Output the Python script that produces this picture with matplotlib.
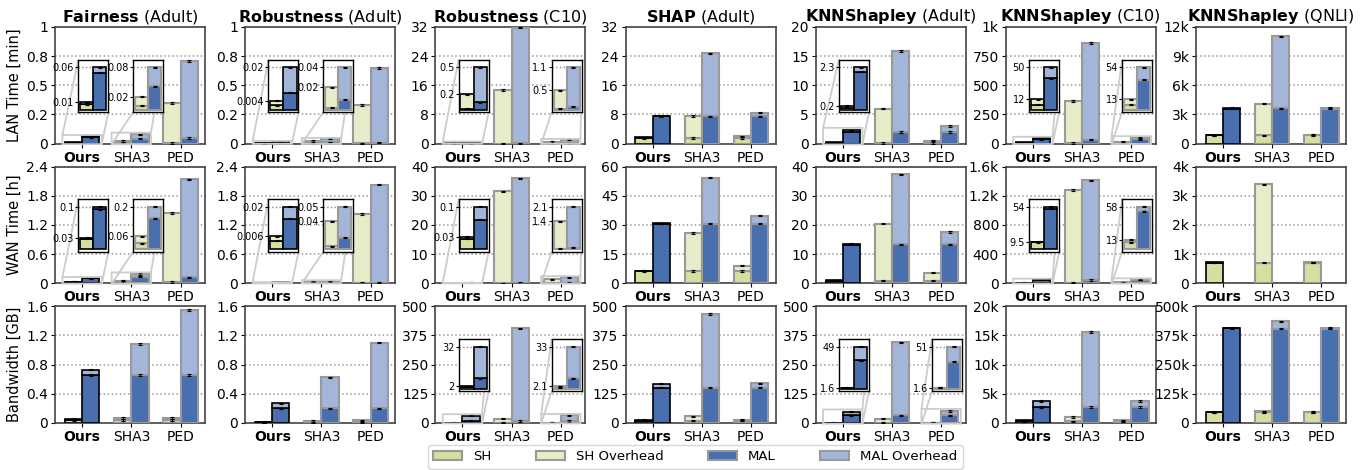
import numpy as np
import matplotlib
matplotlib.use('Agg')
import matplotlib.pyplot as plt
from matplotlib.patches import Patch
from matplotlib.ticker import FuncFormatter

# ---------------------------------------------------------
# Data; each column lists [Ours, SHA3, PED]
# ---------------------------------------------------------
methods = ['Ours', 'SHA3', 'PED']
tasks = ['Fairness', 'Robustness', 'Robustness', 'SHAP', 'KNNShapley', 'KNNShapley', 'KNNShapley']
datasets = ['Adult', 'Adult', 'C10', 'Adult', 'Adult', 'C10', 'QNLI']
row_labels = ['LAN Time [min]', 'WAN Time [h]', 'Bandwidth [GB]']
legend_labels = ['SH', 'SH Overhead', 'MAL', 'MAL Overhead']

lan_ymax = [1, 1, 32, 32, 20, 1000, 12000]
wan_ymax = [2.4, 2.4, 40, 60, 40, 1600, 4000]
bw_ymax = [1.6, 1.6, 500, 500, 500, 20000, 500000]

lan_sh = [[0.008, 0.007, 0.007], [0.002, 0.002, 0.002], [0.01, 0.03, 0.02], [1.6, 1.6, 1.6],
          [0.1, 0.1, 0.1], [6, 6, 6], [850, 850, 850]]
lan_sh_total = [[0.011, 0.024, 0.35], [0.0042, 0.022, 0.33], [0.18, 14.7, 0.5], [1.7, 7.55, 2.0],
                [0.2, 6.0, 0.5], [12, 366, 13], [870, 4115, 930]]
lan_mal = [[0.055, 0.044, 0.05], [0.008, 0.01, 0.008], [0.086, 0.1, 0.07], [7.5, 7.5, 7.5],
           [2.07, 2.0, 2.0], [37, 35, 38], [3600, 3630, 3600]]
lan_mal_total = [[0.063, 0.08, 0.71], [0.02, 0.042, 0.65], [0.5, 31.8, 1.1], [7.7, 24.8, 8.5],
                 [2.3, 15.85, 3.0], [50, 862, 54], [3700, 11030, 3700]]

wan_sh = [[0.028, 0.028, 0.028], [0.004, 0.004, 0.004], [0.025, 0.03, 0.03], [6.4, 6.4, 6.4],
          [0.9, 0.9, 0.9], [9, 9, 9.5], [713, 713, 713]]
wan_sh_total = [[0.03, 0.058, 1.45], [0.0062, 0.036, 1.43], [0.03, 31.5, 1.4], [6.5, 25.9, 9.1],
                [1.0, 20.5, 3.7], [9.5, 1278, 13], [720, 3390, 720]]
wan_mal = [[0.104, 0.14, 0.124], [0.0145, 0.0145, 0.0145], [0.07, 0.07, 0.07], [30.7, 30.7, 30.7],
           [13.3, 13.4, 13.4], [52, 46, 52], [None, None, None]]
wan_mal_total = [[0.11, 0.19, 2.14], [0.02, 0.054, 2.03], [0.1, 36, 2.1], [30.9, 54.3, 34.8],
                 [13.6, 37.4, 17.6], [54, 1411, 58], [None, None, None]]

bw_sh = [[0.04, 0.04, 0.04], [0.01, 0.01, 0.01], [1.5, 1.5, 1.5], [10, 10, 10],
         [1.4, 1.4, 1.4], [300, 300, 300], [45000, 46000, 45000]]
bw_sh_total = [[0.06, 0.07, 0.07], [0.014, 0.03, 0.035], [2.0, 19, 2.1], [14, 28.7, 14],
               [1.6, 18.7, 1.6], [460, 1034, 460], [47000, 50000, 47000]]
bw_mal = [[0.66, 0.66, 0.66], [0.2, 0.2, 0.2], [8, 8.6, 8.3], [152, 152, 152],
          [33, 33, 33], [2760, 2760, 2760], [406000, 404000, 404000]]
bw_mal_total = [[0.73, 1.085, 1.55], [0.27, 0.625, 1.10], [32, 405, 33], [168, 467, 170],
                [49, 346, 51], [3800, 15630, 3800], [409000, 435000, 409000]]

# which groups get a zoomed inset in each panel
lan_insets = [['Ours', 'SHA3'], ['Ours', 'SHA3'], ['Ours', 'PED'], [], ['Ours'], ['Ours', 'PED'], []]
wan_insets = [['Ours', 'SHA3'], ['Ours', 'SHA3'], ['Ours', 'PED'], [], [], ['Ours', 'PED'], []]
bw_insets = [[], [], ['Ours', 'PED'], [], ['Ours', 'PED'], [], []]

rows = [
    (lan_ymax, lan_sh, lan_sh_total, lan_mal, lan_mal_total, lan_insets),
    (wan_ymax, wan_sh, wan_sh_total, wan_mal, wan_mal_total, wan_insets),
    (bw_ymax, bw_sh, bw_sh_total, bw_mal, bw_mal_total, bw_insets),
]

# ---------------------------------------------------------
# Style
# ---------------------------------------------------------
c_sh = '#d5df9f'
c_sh_ov = '#e7edc9'
c_mal = '#4a6fae'
c_mal_ov = '#a3b5d8'
w = 0.35
inset_x = {'Ours': 0.155, 'SHA3': 0.52, 'PED': 0.775}


def fmt_main(v, pos=None):
    if v >= 1000:
        return f'{v / 1000:g}k'
    if float(v).is_integer():
        return str(int(v))
    return f'{v:.1f}'


def fmt_small(v):
    return f'{v:.1g}' if v < 1 else f'{v:.2g}'


def to_f(v):
    return np.nan if v is None else float(v)


def draw_group(ax, k, sh, sht, mal, malt, err):
    if k == 0:
        ec, lw = 'black', 1.2
    else:
        ec, lw = '#999999', 1.5
    for x0, base, tot, cb, co in [(k - w, sh, sht, c_sh, c_sh_ov), (k, mal, malt, c_mal, c_mal_ov)]:
        if np.isnan(base):
            continue
        ax.bar(x0, base, w, align='edge', color=cb, edgecolor=ec, linewidth=lw, zorder=3)
        ax.bar(x0, tot - base, w, bottom=base, align='edge', color=co, edgecolor=ec, linewidth=lw, zorder=3)
        ax.errorbar([x0 + w / 2] * 2, [base, tot], yerr=err, fmt='none', ecolor='black',
                    elinewidth=0.8, capsize=1.3, capthick=0.8, zorder=4)


fig, axes = plt.subplots(3, 7, figsize=(13.66, 4.70))
fig.subplots_adjust(left=0.0403, right=0.9854, top=0.9426, bottom=0.1, wspace=0.267, hspace=0.197)

for r, (ymax, sh, sht, mal, malt, insets) in enumerate(rows):
    for c in range(7):
        ax = axes[r, c]
        vals = [[to_f(sh[c][k]), to_f(sht[c][k]), to_f(mal[c][k]), to_f(malt[c][k])] for k in range(3)]
        for k in range(3):
            draw_group(ax, k, *vals[k], err=0.006 * ymax[c])

        ax.set_xlim(-0.55, 2.5)
        ax.set_ylim(0, ymax[c])
        ax.set_yticks(np.linspace(0, ymax[c], 5))
        ax.yaxis.set_major_formatter(FuncFormatter(fmt_main))
        ax.set_xticks(range(3))
        ax.set_xticklabels(methods)
        ax.get_xticklabels()[0].set_fontweight('bold')
        ax.tick_params(labelsize=10, length=3, pad=2)
        ax.grid(axis='y', linestyle=':', color='#999999', linewidth=1.1)
        ax.set_axisbelow(True)
        for s in ax.spines.values():
            s.set_color('#444444')
            s.set_linewidth(1.2)
        if r == 0:
            ax.set_title(r'$\mathbf{' + tasks[c] + '}$ (' + datasets[c] + ')', fontsize=11.5, pad=4)
        if c == 0:
            ax.set_ylabel(row_labels[r], fontsize=10.5, labelpad=3)

        for name in insets[c]:
            k = methods.index(name)
            top = np.nanmax([vals[k][1], vals[k][3]])
            axin = ax.inset_axes([inset_x[name], 0.27, 0.2, 0.45])
            draw_group(axin, k, *vals[k], err=0.012 * top)
            axin.set_xlim(k - 0.4, k + 0.4)
            axin.set_ylim(-0.06 * top, 1.18 * top)
            axin.set_xticks([])
            ticks = sorted([vals[k][1], vals[k][3]])
            axin.set_yticks(ticks)
            axin.set_yticklabels([fmt_small(v) for v in ticks])
            axin.tick_params(labelsize=7, length=2, pad=1)
            axin.grid(axis='y', linestyle=':', color='#888888', linewidth=1)
            axin.set_axisbelow(True)
            for s in axin.spines.values():
                s.set_color('black')
                s.set_linewidth(1.0)
            ax.indicate_inset_zoom(axin, edgecolor='#cccccc', alpha=1, linewidth=1.3)

handles = [Patch(facecolor=col, edgecolor='#999999', linewidth=1.5)
           for col in [c_sh, c_sh_ov, c_mal, c_mal_ov]]
fig.legend(handles, legend_labels, loc='lower center', bbox_to_anchor=(0.509, 0.0), ncol=4,
           fontsize=9.5, columnspacing=3.4, handlelength=2.2, handletextpad=0.8,
           borderaxespad=0.1, edgecolor='#cccccc')

plt.savefig('out.png', dpi=100)
plt.close()
